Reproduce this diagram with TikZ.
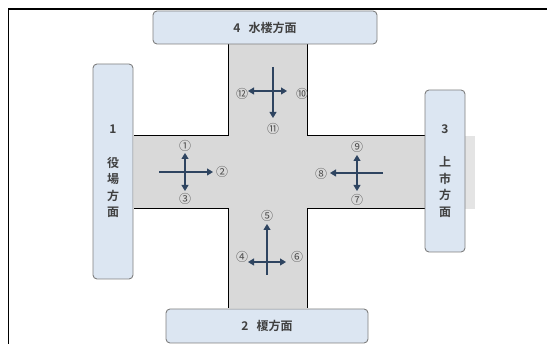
\documentclass[tikz,border=0pt]{standalone}
\usepackage{fontspec}
\setmainfont{Noto Sans CJK JP}[BoldFont={* Bold}]
\usetikzlibrary{arrows.meta}
\definecolor{roadgray}{HTML}{D9D9D9}
\definecolor{boxblue}{HTML}{DCE6F2}
\definecolor{boxline}{HTML}{7F7F7F}
\definecolor{arrowblue}{HTML}{2E4460}
\tikzset{
  dirbox/.style={draw=boxline, fill=boxblue, rounded corners=4pt, line width=0.9pt,
    font=\fontsize{12}{16.5}\selectfont\bfseries, text=black!75, align=center},
  turn/.style={draw=arrowblue, line width=1.1pt, -{Triangle[length=6pt,width=7pt]}},
  turnboth/.style={draw=arrowblue, line width=1.1pt,
    {Triangle[length=6pt,width=7pt]}-{Triangle[length=6pt,width=7pt]}},
  num/.style={font=\fontsize{12}{12}\selectfont, text=black!70, inner sep=0pt},
}
\begin{document}
\begin{tikzpicture}[x=1pt,y=-1pt]
    \useasboundingbox (0,0) rectangle (547,344);
    % frame
    \draw[line width=1.6pt] (547,9) -- (8.5,9) -- (8.5,344);

    % road
    \fill[roadgray] (228,44) -- (307,44) -- (307,136) -- (425,136) -- (425,209)
      -- (307,209) -- (307,308) -- (228,308) -- (228,209) -- (134,209)
      -- (134,136) -- (228,136) -- cycle;
    \fill[roadgray!70] (465,136) rectangle (475,209);
    \draw[line width=1pt] (228,44) -- (228,136) -- (134,136);
    \draw[line width=1pt] (307,44) -- (307,136) -- (425,136);
    \draw[line width=1pt] (134,209) -- (228,209) -- (228,308);
    \draw[line width=1pt] (425,209) -- (307,209) -- (307,308);

    % direction boxes
    \node[dirbox, minimum width=224pt, minimum height=33pt] (north) at (265,27.5) {4\hspace{8pt}水楼方面};
    \node[dirbox, minimum width=202pt, minimum height=34pt] (south) at (267,326) {2\hspace{8pt}榎方面};
    \node[dirbox, minimum width=40pt, minimum height=215pt] (west) at (113,171.5) {1\\[17pt]役\\場\\方\\面};
    \node[dirbox, minimum width=40pt, minimum height=162pt] (east) at (445,171) {3\\[17pt]上\\市\\方\\面};

    % west approach
    \draw[turn] (159,172) -- (213,172);
    \draw[turnboth] (185,153) -- (185,191);
    \node[num] (w1) at (185,146) {①};
    \node[num] (w2) at (222,172) {②};
    \node[num] (w3) at (185,199) {③};

    % south approach
    \draw[turn] (267,275) -- (267,224);
    \draw[turnboth] (248,262) -- (286,262);
    \node[num] (s4) at (242,257) {④};
    \node[num] (s5) at (267,216) {⑤};
    \node[num] (s6) at (297,257) {⑥};

    % east approach
    \draw[turn] (383,173) -- (330,173);
    \draw[turnboth] (357,155) -- (357,191);
    \node[num] (e7) at (357,200) {⑦};
    \node[num] (e8) at (321,174) {⑧};
    \node[num] (e9) at (357,147) {⑨};

    % north approach
    \draw[turn] (273,67) -- (273,118);
    \draw[turnboth] (248,91) -- (287,91);
    \node[num] (n10) at (302,94) {⑩};
    \node[num] (n11) at (273,129) {⑪};
    \node[num] (n12) at (242,94) {⑫};
  \end{tikzpicture}
\end{document}
